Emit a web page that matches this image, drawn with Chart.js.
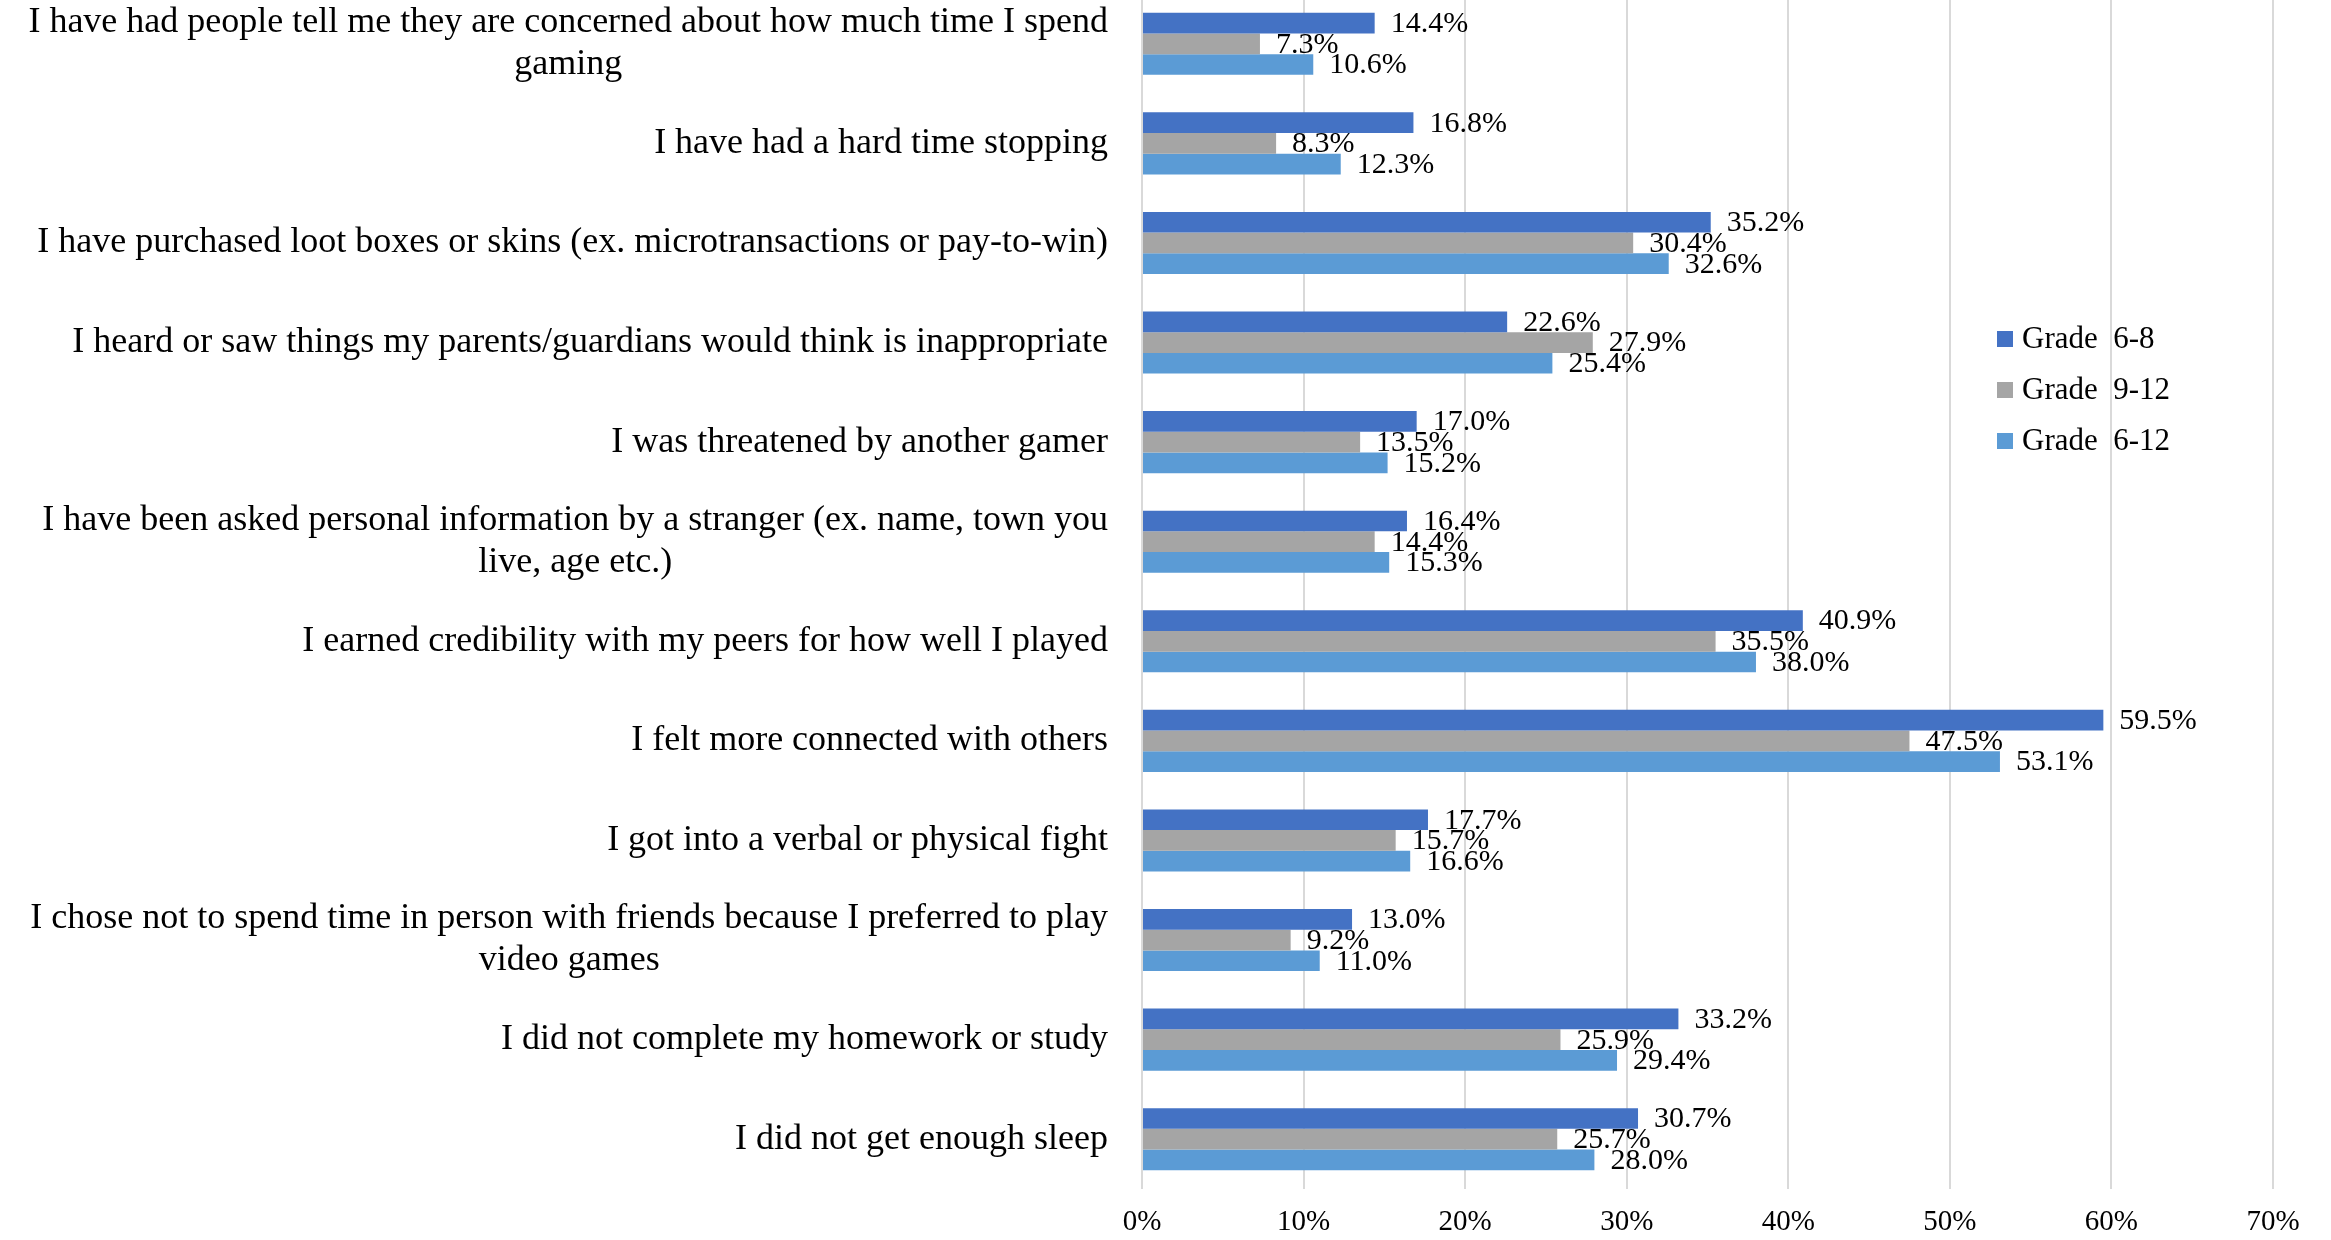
<!DOCTYPE html>
<html>
<head>
<meta charset="utf-8">
<script src="https://cdn.jsdelivr.net/npm/chart.js@4.4.1/dist/chart.umd.min.js"></script>
<style>
    body { margin: 0; background: #ffffff; }
    #wrap { width: 2331px; height: 1240px; overflow: hidden; position: relative; }
    /* plot starts slightly above the top edge in the original, so shift the canvas up */
    #gamingChart { position: absolute; left: 0; top: -6px; }
</style>
</head>
<body>
<div id="wrap"><canvas id="gamingChart" width="2331" height="1246"></canvas></div>
<script>
// Chart data
const categories = [
    ["I have had people tell me they are concerned about how much time I spend", "gaming"],
    "I have had a hard time stopping",
    "I have purchased loot boxes or skins (ex. microtransactions or pay-to-win)",
    "I heard or saw things my parents/guardians would think is inappropriate",
    "I was threatened by another gamer",
    ["I have been asked personal information by a stranger (ex. name, town you", "live, age etc.)"],
    "I earned credibility with my peers for how well I played",
    "I felt more connected with others",
    "I got into a verbal or physical fight",
    ["I chose not to spend time in person with friends because I preferred to play", "video games"],
    "I did not complete my homework or study",
    "I did not get enough sleep"
];

const seriesNames = ["Grade  6-8", "Grade  9-12", "Grade  6-12"];
const grade6to8 = [14.4, 16.8, 35.2, 22.6, 17.0, 16.4, 40.9, 59.5, 17.7, 13.0, 33.2, 30.7];
const grade9to12 = [7.3, 8.3, 30.4, 27.9, 13.5, 14.4, 35.5, 47.5, 15.7, 9.2, 25.9, 25.7];
const grade6to12 = [10.6, 12.3, 32.6, 25.4, 15.2, 15.3, 38.0, 53.1, 16.6, 11.0, 29.4, 28.0];
const xTicks = [0, 10, 20, 30, 40, 50, 60, 70];

const seriesColors = ['#4472C4', '#A5A5A5', '#5B9BD5'];
const FONT = "'Liberation Serif', 'Times New Roman', serif";

// Category labels: right aligned block, lines centred inside it (like Excel)
const categoryLabelPlugin = {
    id: 'categoryLabels',
    afterDraw(chart) {
        const ctx = chart.ctx;
        const yScale = chart.scales.y;
        const right = chart.chartArea.left - 34;
        const lineHeight = 42;
        ctx.save();
        ctx.font = `36px ${FONT}`;
        ctx.fillStyle = '#000000';
        ctx.textBaseline = 'middle';
        ctx.textAlign = 'center';
        categories.forEach((label, i) => {
            const lines = Array.isArray(label) ? label : [label];
            const maxW = Math.max(...lines.map(l => ctx.measureText(l).width));
            const cx = right - maxW / 2;
            const cy = yScale.getPixelForValue(i);
            const startY = cy - (lines.length - 1) * lineHeight / 2;
            lines.forEach((line, j) => {
                ctx.fillText(line, cx, startY + j * lineHeight);
            });
        });
        ctx.restore();
    }
};

// Value labels at the end of each bar
const valueLabelPlugin = {
    id: 'valueLabels',
    afterDatasetsDraw(chart) {
        const ctx = chart.ctx;
        ctx.save();
        ctx.font = `30px ${FONT}`;
        ctx.fillStyle = '#000000';
        ctx.textBaseline = 'middle';
        ctx.textAlign = 'left';
        chart.data.datasets.forEach((ds, di) => {
            const meta = chart.getDatasetMeta(di);
            meta.data.forEach((bar, i) => {
                ctx.fillText(ds.data[i].toFixed(1) + '%', bar.x + 16, bar.y + 1);
            });
        });
        ctx.restore();
    }
};

// Legend sitting inside the plot area (canvas coords, canvas is 6px above the page)
const insideLegendPlugin = {
    id: 'insideLegend',
    afterDraw(chart) {
        const ctx = chart.ctx;
        const boxX = 1997, firstY = 345, step = 51, box = 16;
        ctx.save();
        ctx.font = `31px ${FONT}`;
        ctx.textBaseline = 'middle';
        ctx.textAlign = 'left';
        chart.data.datasets.forEach((ds, i) => {
            const y = firstY + i * step;
            ctx.fillStyle = ds.backgroundColor;
            ctx.fillRect(boxX, y - box / 2, box, box);
            ctx.fillStyle = '#000000';
            ctx.fillText(ds.label, boxX + 25, y + 1);
        });
        ctx.restore();
    }
};

const ctx = document.getElementById('gamingChart').getContext('2d');
new Chart(ctx, {
    type: 'bar',
    data: {
        labels: categories,
        datasets: [
            { label: seriesNames[0], data: grade6to8, backgroundColor: seriesColors[0] },
            { label: seriesNames[1], data: grade9to12, backgroundColor: seriesColors[1] },
            { label: seriesNames[2], data: grade6to12, backgroundColor: seriesColors[2] }
        ]
    },
    options: {
        indexAxis: 'y',
        responsive: false,
        animation: false,
        layout: { padding: { top: 0, right: 58, bottom: 0, left: 0 } },
        datasets: {
            bar: { barPercentage: 1, categoryPercentage: 0.623, borderWidth: 0 }
        },
        scales: {
            x: {
                min: xTicks[0],
                max: xTicks[xTicks.length - 1],
                afterBuildTicks: (scale) => { scale.ticks = xTicks.map(v => ({ value: v })); },
                grid: { color: '#D9D9D9', lineWidth: 2, drawTicks: false },
                border: { display: false },
                ticks: {
                    color: '#000000',
                    padding: 16,
                    font: { family: FONT, size: 29 },
                    callback: (v) => v + '%'
                },
                afterFit: (scale) => { scale.height = 51; }
            },
            y: {
                grid: { display: false },
                border: { display: false },
                ticks: { display: false },
                afterFit: (scale) => { scale.width = 1142; }
            }
        },
        plugins: {
            legend: { display: false },
            tooltip: { enabled: false }
        }
    },
    plugins: [categoryLabelPlugin, valueLabelPlugin, insideLegendPlugin]
});
</script>
</body>
</html>
